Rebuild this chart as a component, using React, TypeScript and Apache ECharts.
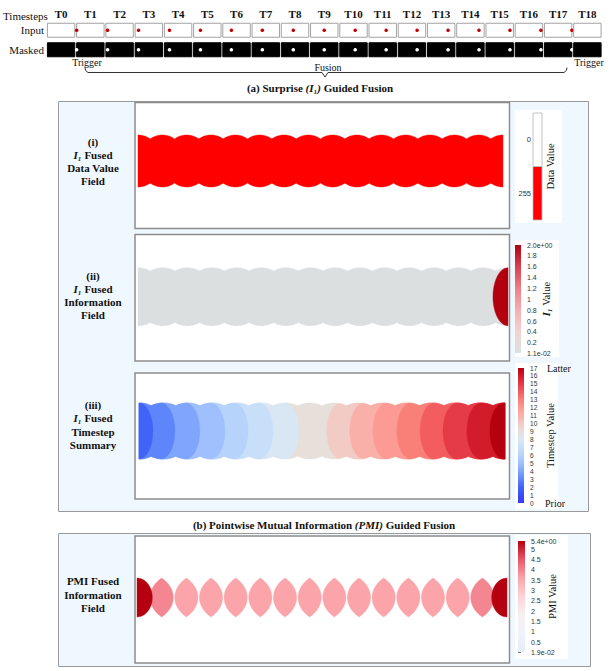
import React, { useEffect, useRef } from 'react';
import * as echarts from 'echarts';

const SERIF = '"Liberation Serif", "Times New Roman", serif';
const SANS = '"Liberation Sans", Arial, sans-serif';

// ---------------- data ----------------
const timesteps = ['T0', 'T1', 'T2', 'T3', 'T4', 'T5', 'T6', 'T7', 'T8', 'T9', 'T10', 'T11', 'T12', 'T13', 'T14', 'T15', 'T16', 'T17', 'T18'];
const stripRows = ['Input', 'Masked'];
// horizontal position of the moving dot inside each frame (0 = left edge, 1 = right edge)
const dotFrac: (number | null)[] = [null, 0, 0.0625, 0.125, 0.1875, 0.25, 0.3125, 0.375, 0.4375, 0.5, 0.5625, 0.625, 0.6875, 0.75, 0.8125, 0.875, 0.9375, 1, null];

// centres of the dot footprints along the fused domain
const footprintCenters = [0, 1, 2, 3, 4, 5, 6, 7, 8, 9, 10, 11, 12, 13, 14, 15];

// (i) data value field
const dataFieldValue = 255;
const dataLegendCats = ['255', '0'];
const dataLegendValues = [255, 0];
const dataColors = ['#ffffff', '#fe0000'];

// (ii) I1 information field
const infoBaseValue = 0.011;
const infoEndBoundary = 14.39;
const infoEndValue = 2.0;
const infoColors = ['#dcdfe0', '#f2d3d2', '#f5aeb0', '#ee7f86', '#d8404e', '#b3000f'];
const infoTicks = [0.011, 0.2, 0.4, 0.6, 0.8, 1, 1.2, 1.4, 1.6, 1.8, 2.0];
const infoTickLabels = ['1.1e-02', '0.2', '0.4', '0.6', '0.8', '1', '1.2', '1.4', '1.6', '1.8', '2.0e+00'];
const infoTickMarks = [1.6, 1.8, 2.0];

// (iii) timestep summary
const tsBaseValue = 9;
const tsPriorBounds = [6.55, 5.49, 4.47, 3.52, 2.49, 1.47, 0.57];
const tsPriorValues = [8, 7, 6, 5, 4, 3, 2];
const tsLatterBounds = [7.7, 8.64, 9.59, 10.57, 11.52, 12.46, 13.44, 14.38];
const tsLatterValues = [10, 11, 12, 13, 14, 15, 16, 17];
const tsColors = ['#3a3cf6', '#3b4cf5', '#4163f8', '#5f85fb', '#80a5fc', '#9fc0fc', '#b6d3fb', '#c8dffa', '#d9e7f5', '#e6dfda', '#f2cbc4', '#f9b0a8', '#fc9b93', '#f98079', '#f35d5f', '#e43b47', '#d31c2b', '#b5000f'];
const tsTicks = [0, 1, 2, 3, 4, 5, 6, 7, 8, 9, 10, 11, 12, 13, 14, 15, 16, 17];
const tsTickMarks = [1, 5, 6, 7, 10, 11, 12, 16, 17];
const tsEndNames = ['Prior', 'Latter'];

// PMI field
const pmiLensCenters = [1, 2, 3, 4, 5, 6, 7, 8, 9, 10, 11, 12, 13, 14];
const pmiLensValues = [3.95, 3.6, 3.58, 3.58, 3.58, 3.58, 3.58, 3.58, 3.58, 3.58, 3.58, 3.58, 3.6, 3.95];
const pmiEndValues = [5.4, 5.4];
const pmiColors = ['#e6eef9', '#eef3fa', '#f8eff2', '#fcd4d6', '#fba4a9', '#e8566a', '#b5000f'];
const pmiTicks = [0.019, 0.5, 1, 1.5, 2, 2.5, 3, 3.5, 4, 4.5, 5, 5.4];
const pmiTickLabels = ['1.9e-02', '0.5', '1', '1.5', '2', '2.5', '3', '3.5', '4', '4.5', '5', '5.4e+00'];
const pmiTickMarks = [0.019, 0.5, 1, 1.5, 2, 3.5, 4.5, 5.4];

// ---------------- geometry helpers ----------------
type Kind = 'env' | 'left' | 'right' | 'lens' | 'halfL' | 'halfR';
type Region = { kind: Kind; at: number; value: number };
type Geom = { cy: number; rxE: number; ryE: number; ra: number; rxL: number; ryL: number; ryH: number };

const sq = (t: number) => Math.sqrt(Math.max(0, 1 - t * t));
function span(a: number, b: number, step = 0.03) {
  const n = Math.max(2, Math.ceil(Math.abs(b - a) / step) + 1);
  const out: number[] = [];
  for (let i = 0; i < n; i++) out.push(a + ((b - a) * i) / (n - 1));
  return out;
}
function envH(x: number, g: Geom) {
  let m = 0;
  for (const c of footprintCenters) {
    const d = (x - c) / g.rxE;
    if (Math.abs(d) < 1) m = Math.max(m, g.ryE * sq(d));
  }
  return m;
}
const X0 = footprintCenters[0];
const X1 = footprintCenters[footprintCenters.length - 1];
function regionPoints(r: Region, g: Geom): number[][] {
  const P: number[][] = [];
  const clampX = (x: number) => Math.min(X1, Math.max(X0, x));
  if (r.kind === 'env') {
    span(X0, X1).forEach((x) => P.push([x, envH(x, g)]));
    span(X1, X0).forEach((x) => P.push([x, -envH(x, g)]));
  } else if (r.kind === 'left' || r.kind === 'right') {
    const s = r.kind === 'left' ? 1 : -1;
    const arc = (y: number) => r.at - s * g.ra + s * g.ra * sq(y / g.ryE);
    let y = g.ryE;
    for (let i = 0; i < 40; i++) y = Math.min(g.ryE, envH(clampX(arc(y)), g));
    const xs = clampX(arc(y));
    if (s === 1) {
      span(X0, xs).forEach((x) => P.push([x, envH(x, g)]));
      span(y, -y, 0.5).forEach((t) => P.push([clampX(arc(t)), t]));
      span(xs, X0).forEach((x) => P.push([x, -envH(x, g)]));
    } else {
      span(xs, X1).forEach((x) => P.push([x, envH(x, g)]));
      span(X1, xs).forEach((x) => P.push([x, -envH(x, g)]));
      span(-y, y, 0.5).forEach((t) => P.push([clampX(arc(t)), t]));
    }
  } else if (r.kind === 'lens') {
    const yl = g.ryL * sq(1 / g.rxL);
    span(yl, -yl, 0.5).forEach((t) => P.push([r.at - 1 + g.rxL * sq(t / g.ryL), t]));
    span(-yl, yl, 0.5).forEach((t) => P.push([r.at + 1 - g.rxL * sq(t / g.ryL), t]));
  } else {
    const s = r.kind === 'halfL' ? 1 : -1;
    span(g.ryH, -g.ryH, 0.5).forEach((t) => P.push([r.at + s * g.ra * sq(t / g.ryH), t]));
  }
  return P;
}

// ---------------- layout ----------------
const PANEL_L = 135;
const PANEL_R = 509.5;
const fieldLayouts = [
  { top: 102.5, height: 126, L: 138, R: 503 },
  { top: 234.5, height: 126.5, L: 138, R: 508 },
  { top: 373, height: 126, L: 139, R: 505 },
  { top: 536, height: 127, L: 137, R: 507 },
];
const geoms: Geom[] = [
  { cy: 4.5, rxE: 0.95, ryE: 26, ra: 0.6, rxL: 1.47, ryL: 26.6, ryH: 19.5 },
  { cy: 1, rxE: 1.1, ryE: 29, ra: 0.61, rxL: 1.47, ryL: 26.6, ryH: 19.5 },
  { cy: 5, rxE: 1.15, ryE: 28, ra: 0.58, rxL: 1.47, ryL: 26.6, ryH: 19.5 },
  { cy: 2, rxE: 1.15, ryE: 26, ra: 0.62, rxL: 1.47, ryL: 26.6, ryH: 19.5 },
];

function buildOption() {
  const regionsI: Region[] = [{ kind: 'env', at: 0, value: dataFieldValue }];
  const regionsII: Region[] = [
    { kind: 'env', at: 0, value: infoBaseValue },
    { kind: 'right', at: infoEndBoundary, value: infoEndValue },
  ];
  const regionsIII: Region[] = [
    { kind: 'env', at: 0, value: tsBaseValue },
    ...tsPriorBounds.map((b, i) => ({ kind: 'left' as Kind, at: b, value: tsPriorValues[i] })),
    ...tsLatterBounds.map((b, i) => ({ kind: 'right' as Kind, at: b, value: tsLatterValues[i] })),
  ];
  const regionsPMI: Region[] = [
    ...pmiLensCenters.map((k, i) => ({ kind: 'lens' as Kind, at: k, value: pmiLensValues[i] })),
    { kind: 'halfL', at: X0, value: pmiEndValues[0] },
    { kind: 'halfR', at: X1, value: pmiEndValues[1] },
  ];
  const allRegions = [regionsI, regionsII, regionsIII, regionsPMI];

  const grids: any[] = [
    { left: 46.5, top: 20.5, width: 555.5, height: 39 },
    ...fieldLayouts.map((f) => ({
      left: PANEL_L, top: f.top, width: PANEL_R - PANEL_L, height: f.height,
      show: true, backgroundColor: '#ffffff', borderColor: '#8c8c8c', borderWidth: 1.5,
    })),
    { left: 533, top: 113, width: 9, height: 107 },
    { left: 515, top: 245, width: 6, height: 108 },
    { left: 518, top: 368, width: 6, height: 135 },
    { left: 518, top: 541, width: 7, height: 111 },
  ];

  const hidden = { show: false };
  const xAxes: any[] = [
    {
      gridIndex: 0, type: 'category', data: timesteps, position: 'top',
      axisLine: hidden, axisTick: hidden,
      axisLabel: { interval: 0, margin: 1.5, fontFamily: SERIF, fontWeight: 'bold', fontSize: 11, color: '#111' },
    },
    ...fieldLayouts.map((f, i) => {
      const u = (f.R - f.L) / (X1 - X0);
      return { gridIndex: i + 1, type: 'value', min: X0 - (f.L - PANEL_L) / u, max: X1 + (PANEL_R - f.R) / u, show: false };
    }),
    { gridIndex: 5, type: 'value', min: 0, max: 1, show: false },
    { gridIndex: 6, type: 'value', min: 0, max: 1, show: false },
    { gridIndex: 7, type: 'value', min: 0, max: 1, show: false },
    { gridIndex: 8, type: 'value', min: 0, max: 1, show: false },
  ];

  const cbLabel = { fontFamily: SANS, fontSize: 7, color: '#333' };
  const cbName = { fontFamily: SERIF, fontSize: 10.5, color: '#111' };
  const nearestLabel = (ticks: number[], labels: string[]) => (v: number) => {
    let bi = 0;
    ticks.forEach((t, i) => { if (Math.abs(t - v) < Math.abs(ticks[bi] - v)) bi = i; });
    return labels[bi];
  };

  const yAxes: any[] = [
    {
      gridIndex: 0, type: 'category', data: stripRows, inverse: true,
      axisLine: hidden, axisTick: hidden,
      axisLabel: { margin: 2.5, fontFamily: SERIF, fontSize: 11, color: '#111' },
    },
    ...fieldLayouts.map((f, i) => ({ gridIndex: i + 1, type: 'value', min: -f.height / 2, max: f.height / 2, show: false })),
    {
      gridIndex: 5, type: 'category', data: dataLegendCats, position: 'left',
      axisLine: hidden, axisTick: hidden,
      axisLabel: { ...cbLabel, fontSize: 7.5, margin: 2, padding: [0, 0, 5, 0] },
    },
    {
      gridIndex: 6, type: 'value', min: infoTicks[0], max: infoTicks[infoTicks.length - 1], position: 'right',
      axisLine: hidden, splitLine: hidden,
      axisTick: { show: true, customValues: infoTickMarks, length: 3, lineStyle: { color: '#555', width: 0.8 } },
      axisLabel: { ...cbLabel, margin: 6, hideOverlap: false, showMinLabel: true, showMaxLabel: true, customValues: infoTicks, formatter: nearestLabel(infoTicks, infoTickLabels) },
      name: '{i|I₁} Value', nameLocation: 'middle', nameRotate: 90, nameGap: 20, nameMoveOverlap: false,
      nameTextStyle: { ...cbName, rich: { i: { ...cbName, fontStyle: 'italic', fontWeight: 'bold' } } },
    },
    {
      gridIndex: 7, type: 'value', min: 0, max: 17, position: 'right',
      axisLine: hidden, splitLine: hidden,
      axisTick: { show: true, customValues: tsTickMarks, length: 3, lineStyle: { color: '#555', width: 0.8 } },
      axisLabel: {
        ...cbLabel, fontSize: 6.6, lineHeight: 7, margin: 6, customValues: tsTicks, hideOverlap: false, showMinLabel: true, showMaxLabel: true,
        formatter: (v: number) => String(Math.round(v)),
      },
      name: 'Timestep Value', nameLocation: 'middle', nameRotate: 90, nameGap: 21, nameMoveOverlap: false, nameTextStyle: cbName,
    },
    {
      gridIndex: 8, type: 'value', min: pmiTicks[0], max: pmiTicks[pmiTicks.length - 1], position: 'right',
      axisLine: hidden, splitLine: hidden,
      axisTick: { show: true, customValues: pmiTickMarks, length: 3, lineStyle: { color: '#555', width: 0.8 } },
      axisLabel: { ...cbLabel, margin: 6, hideOverlap: false, showMinLabel: true, showMaxLabel: true, customValues: pmiTicks, formatter: nearestLabel(pmiTicks, pmiTickLabels) },
      name: 'PMI Value', nameLocation: 'middle', nameRotate: 90, nameGap: 22, nameMoveOverlap: false, nameTextStyle: cbName,
    },
    {
      gridIndex: 5, type: 'value', min: 0, max: 1, position: 'right',
      axisLine: hidden, axisTick: hidden, axisLabel: hidden, splitLine: hidden,
      name: 'Data Value', nameLocation: 'middle', nameRotate: 90, nameGap: 3, nameMoveOverlap: false, nameTextStyle: cbName,
    },
  ];

  const stripData: number[][] = [];
  timesteps.forEach((_, t) => stripRows.forEach((__, r) => stripData.push([t, r, dotFrac[t] == null ? -1 : (dotFrac[t] as number)])));

  const stripSeries = {
    type: 'custom', xAxisIndex: 0, yAxisIndex: 0, data: stripData, silent: true,
    renderItem: (_p: any, api: any) => {
      const t = api.value(0), r = api.value(1), f = api.value(2);
      const c = api.coord([t, r]);
      const w = api.size([1, 1])[0] - 1.8, h = 14;
      const x0 = c[0] - w / 2, y0 = c[1] - h / 2;
      const kids: any[] = [{
        type: 'rect', shape: { x: x0, y: y0, width: w, height: h },
        style: { fill: r === 0 ? '#ffffff' : '#000000', stroke: r === 0 ? '#a3a3a3' : '#000000', lineWidth: 1 },
      }];
      if (f >= 0) kids.push({ type: 'circle', shape: { cx: x0 + f * w, cy: c[1], r: 1.8 }, style: { fill: r === 0 ? '#c40000' : '#ffffff' } });
      return { type: 'group', children: kids };
    },
  };

  const fieldSeries = allRegions.map((regs, i) => {
    const g = geoms[i];
    return {
      type: 'custom', xAxisIndex: i + 1, yAxisIndex: i + 1, silent: true,
      data: regs.map((r) => [r.at, g.cy, r.value]),
      encode: { x: 0, y: 1 },
      renderItem: (params: any, api: any) => {
        const r = regs[params.dataIndex];
        const color = api.visual('color');
        const pts = regionPoints(r, g).map((p) => api.coord([p[0], g.cy + p[1]]));
        return { type: 'polygon', shape: { points: pts }, style: { fill: color, stroke: color, lineWidth: 0.4 } };
      },
    };
  });

  const legendSeries = {
    type: 'custom', xAxisIndex: 5, yAxisIndex: 5, silent: true,
    data: dataLegendCats.map((_, i) => [0, i, dataLegendValues[i]]),
    encode: { x: 0, y: 1 },
    renderItem: (_p: any, api: any) => {
      const a = api.coord([0, api.value(1)]);
      const b = api.coord([1, api.value(1)]);
      const bh = api.size([0, 1])[1];
      return {
        type: 'rect', shape: { x: a[0], y: a[1] - bh / 2, width: b[0] - a[0], height: bh },
        style: { fill: api.visual('color'), stroke: '#b5b5b5', lineWidth: 0.8 },
      };
    },
  };

  const gradientBar = (idx: number, lo: number, hi: number, colors: string[]) => ({
    type: 'custom', xAxisIndex: idx, yAxisIndex: idx, silent: true,
    data: [[0, lo]],
    renderItem: (_p: any, api: any) => {
      const a = api.coord([0, lo]);
      const b = api.coord([1, hi]);
      return {
        type: 'rect', shape: { x: a[0], y: b[1], width: b[0] - a[0], height: a[1] - b[1] },
        style: {
          fill: new echarts.graphic.LinearGradient(0, 1, 0, 0, colors.map((c, i) => ({ offset: i / (colors.length - 1), color: c }))),
        },
      };
    },
  });

  const series: any[] = [
    stripSeries,
    ...fieldSeries,
    legendSeries,
    gradientBar(6, infoTicks[0], infoTicks[infoTicks.length - 1], infoColors),
    gradientBar(7, tsTicks[0], tsTicks[tsTicks.length - 1], tsColors),
    gradientBar(8, pmiTicks[0], pmiTicks[pmiTicks.length - 1], pmiColors),
  ];

  const visualMap: any[] = [
    { type: 'continuous', show: false, seriesIndex: [1, 5], dimension: 2, min: 0, max: 255, inRange: { color: dataColors } },
    { type: 'continuous', show: false, seriesIndex: 2, dimension: 2, min: infoTicks[0], max: infoTicks[infoTicks.length - 1], inRange: { color: infoColors } },
    { type: 'continuous', show: false, seriesIndex: 3, dimension: 2, min: tsTicks[0], max: tsTicks[tsTicks.length - 1], inRange: { color: tsColors } },
    { type: 'continuous', show: false, seriesIndex: 4, dimension: 2, min: pmiTicks[0], max: pmiTicks[pmiTicks.length - 1], inRange: { color: pmiColors } },
  ];

  const txt = (x: number, y: number, text: string, extra: any = {}) => ({
    type: 'text', x, y, z: 10, silent: true,
    style: { text, fontFamily: SERIF, fontSize: 11, fill: '#111', align: 'center', verticalAlign: 'middle', ...extra },
  });
  const boldLabel = (y: number, text: string) =>
    txt(93, y, text, {
      fontWeight: 'bold', lineHeight: 13.3,
      rich: { i: { fontFamily: SERIF, fontSize: 11, fontWeight: 'bold', fontStyle: 'italic', fill: '#111', lineHeight: 13.3 } },
    });

  const graphic: any[] = [
    { type: 'rect', z: -5, silent: true, shape: { x: 58.5, y: 101.5, width: 530, height: 410 }, style: { fill: '#f0f8ff', stroke: '#9a9a9a', lineWidth: 1 } },
    { type: 'rect', z: -5, silent: true, shape: { x: 58.5, y: 533.5, width: 532, height: 133 }, style: { fill: '#f0f8ff', stroke: '#9a9a9a', lineWidth: 1 } },
    { type: 'rect', z: -4, silent: true, shape: { x: 515, y: 110, width: 47, height: 113 }, style: { fill: '#ffffff' } },
    { type: 'rect', z: -4, silent: true, shape: { x: 515, y: 240, width: 44, height: 117 }, style: { fill: '#ffffff' } },
    { type: 'rect', z: -4, silent: true, shape: { x: 515, y: 363, width: 43, height: 146 }, style: { fill: '#ffffff' } },
    { type: 'rect', z: -4, silent: true, shape: { x: 515, y: 535, width: 53, height: 124 }, style: { fill: '#ffffff' } },
    txt(3, 16, 'Timesteps', { align: 'left' }),
    txt(87, 62, 'Trigger', { fontSize: 10 }),
    txt(589, 62, 'Trigger', { fontSize: 10 }),
    txt(328, 67, 'Fusion', { fontSize: 10 }),
    txt(547, 368, tsEndNames[1], { fontSize: 10, align: 'left' }),
    txt(545, 503, tsEndNames[0], { fontSize: 10, align: 'left' }),
    {
      type: 'polyline', z: 10, silent: true,
      shape: { points: [[85, 67.5], [85.6, 70.5], [88, 72.5], [322, 72.5], [325, 77], [328, 72.5], [564, 72.5], [566.4, 70.5], [567, 67.5]] },
      style: { stroke: '#333', lineWidth: 1, fill: null },
    },
    txt(320, 87.5, '(a) Surprise {i|(I₁)} Guided Fusion', {
      fontWeight: 'bold', rich: { i: { fontFamily: SERIF, fontSize: 11, fontWeight: 'bold', fontStyle: 'italic', fill: '#111' } },
    }),
    txt(324, 524.5, '(b) Pointwise Mutual Information {i|(PMI)} Guided Fusion', {
      fontWeight: 'bold', rich: { i: { fontFamily: SERIF, fontSize: 11, fontWeight: 'bold', fontStyle: 'italic', fill: '#111' } },
    }),
    boldLabel(161.5, '(i)\n{i|I₁} Fused\nData Value\nField'),
    boldLabel(295.5, '(ii)\n{i|I₁} Fused\nInformation\nField'),
    boldLabel(425, '(iii)\n{i|I₁} Fused\nTimestep\nSummary'),
    boldLabel(594.5, 'PMI Fused\nInformation\nField'),
  ];

  return {
    animation: false,
    backgroundColor: '#ffffff',
    grid: grids,
    xAxis: xAxes,
    yAxis: yAxes,
    visualMap,
    series,
    graphic,
  };
}

export default function App() {
  const ref = useRef<HTMLDivElement>(null);
  useEffect(() => {
    const chart = echarts.init(ref.current as HTMLDivElement, null, { renderer: 'svg' });
    chart.setOption(buildOption() as any);
    return () => chart.dispose();
  }, []);
  return <div ref={ref} style={{ position: 'fixed', left: 0, top: 0, width: 610, height: 671, background: '#fff' }} />;
}
